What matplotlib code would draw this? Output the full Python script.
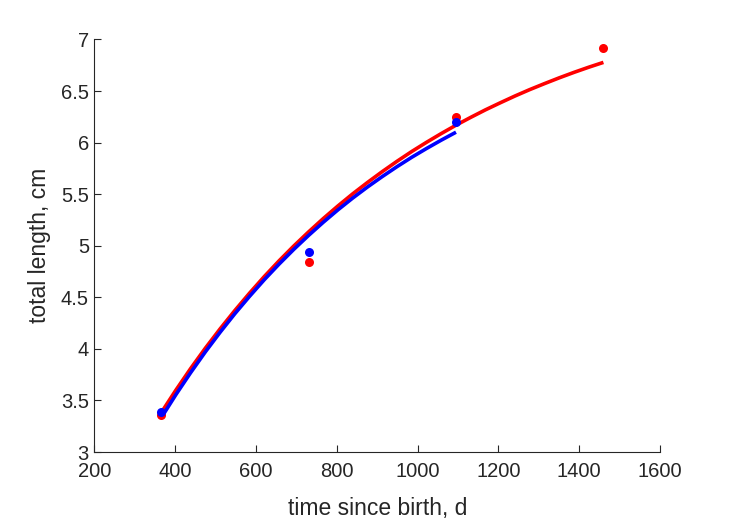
import matplotlib
matplotlib.use("Agg")
import matplotlib.pyplot as plt

# observed data
t_red = [365, 730, 1095, 1460]
L_red = [3.36, 4.84, 6.25, 6.92]
t_blue = [365, 730, 1095]
L_blue = [3.39, 4.94, 6.20]

# fitted curves
t_fit_red = [365, 401.5, 438, 474.5, 511, 547.5, 584, 620.5, 657, 693.5, 730, 766.5, 803, 839.5,
             876, 912.5, 949, 985.5, 1022, 1058.5, 1095, 1131.5, 1168, 1204.5, 1241, 1277.5,
             1314, 1350.5, 1387, 1423.5, 1460]
L_fit_red = [3.380, 3.600, 3.809, 4.007, 4.194, 4.372, 4.541, 4.702, 4.854, 4.998, 5.134, 5.264,
             5.387, 5.504, 5.614, 5.719, 5.819, 5.914, 6.003, 6.088, 6.169, 6.245, 6.318, 6.386,
             6.452, 6.514, 6.572, 6.628, 6.681, 6.731, 6.778]
t_fit_blue = [365, 401.5, 438, 474.5, 511, 547.5, 584, 620.5, 657, 693.5, 730, 766.5, 803, 839.5,
              876, 912.5, 949, 985.5, 1022, 1058.5, 1095]
L_fit_blue = [3.330, 3.556, 3.769, 3.971, 4.161, 4.341, 4.510, 4.671, 4.822, 4.965, 5.100, 5.228,
              5.349, 5.463, 5.570, 5.671, 5.767, 5.858, 5.943, 6.024, 6.101]

xticks = [200, 400, 600, 800, 1000, 1200, 1400, 1600]
yticks = [3, 3.5, 4, 4.5, 5, 5.5, 6, 6.5, 7]
ytick_labels = ["3", "3.5", "4", "4.5", "5", "5.5", "6", "6.5", "7"]

plt.rcParams['font.family'] = ['Liberation Sans', 'DejaVu Sans']

fig = plt.figure(figsize=(7.29, 5.21), dpi=100)
ax = fig.add_axes([0.1296, 0.1324, 0.7757, 0.7918])

ax.plot(t_fit_red, L_fit_red, color='#ff0000', lw=2.6, solid_capstyle='butt', solid_joinstyle='round', zorder=2)
ax.plot(t_red, L_red, 'o', color='#ff0000', ms=6.5, mec='none', zorder=3)
ax.plot(t_fit_blue, L_fit_blue, color='#0000ff', lw=2.6, solid_capstyle='butt', solid_joinstyle='round', zorder=2.5)
ax.plot(t_blue, L_blue, 'o', color='#0000ff', ms=6.5, mec='none', zorder=3.5)

ax.set_xlim(200, 1600)
ax.set_ylim(3, 7)
ax.set_xticks(xticks)
ax.set_yticks(yticks)
ax.set_yticklabels(ytick_labels)

for s in ['top', 'right']:
    ax.spines[s].set_visible(False)
for s in ['left', 'bottom']:
    ax.spines[s].set_color('#262626')
    ax.spines[s].set_linewidth(0.8)

ax.tick_params(direction='in', length=5, width=0.8, colors='#262626', labelsize=14.5)
ax.tick_params(axis='y', pad=4)
ax.tick_params(axis='x', pad=7)
ax.set_xlabel('time since birth, d', fontsize=16.5, color='#262626', labelpad=12)
ax.set_ylabel('total length, cm', fontsize=16.5, color='#262626', labelpad=7)

fig.savefig('out.png', dpi=100)
